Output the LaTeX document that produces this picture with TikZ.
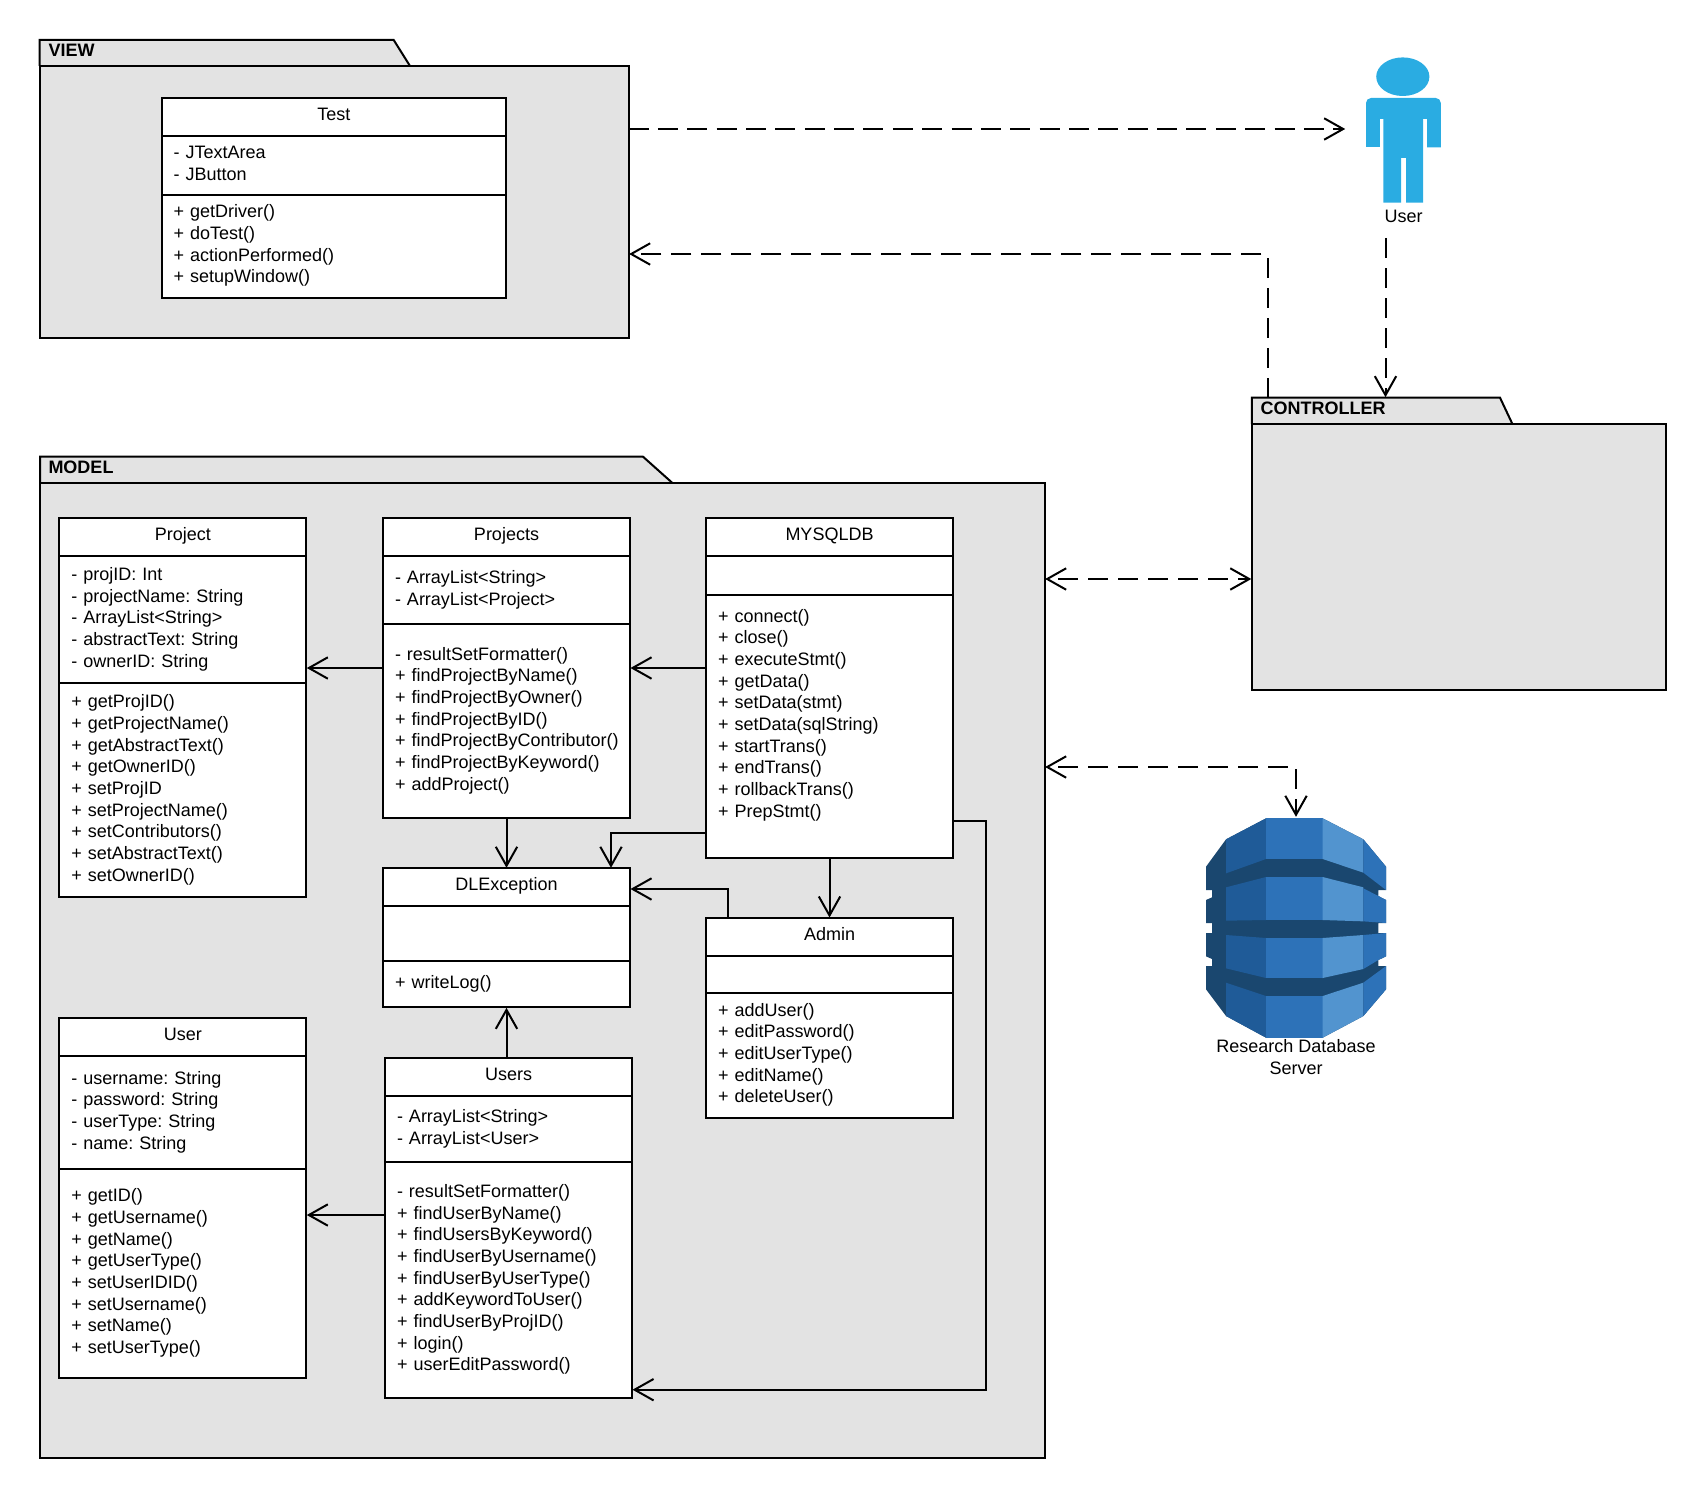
\documentclass[tikz,border=0pt]{standalone}
\usepackage{fontspec}
\setmainfont{Liberation Sans}
\usetikzlibrary{arrows.meta}
\definecolor{pkggray}{HTML}{E3E3E3}
\definecolor{actorblue}{HTML}{2AACE2}
\definecolor{dbdark}{HTML}{1A476F}
\definecolor{dbleft}{HTML}{1F5B98}
\definecolor{dbmid}{HTML}{2D72B8}
\definecolor{dblight}{HTML}{5294CF}
\frenchspacing
\begin{document}
\begin{tikzpicture}
[x=0.5pt, y=-0.5pt, line width=1pt, font=\fontsize{9}{10.83}\selectfont,
openbarb/.tip={Straight Barb[length=9.5pt, width=10.7pt]},
pkgbody/.style={rectangle, draw, fill=pkggray, inner sep=0pt, outer sep=0pt, anchor=north west},
pkgtab/.style={draw, fill=pkggray},
pkgname/.style={anchor=west, inner sep=0pt, font=\fontsize{9}{10.83}\selectfont\bfseries},
classname/.style={rectangle, draw, fill=white, inner sep=0pt, outer sep=0pt, anchor=north west, minimum width=123.5pt, minimum height=18.85pt, text height=6.5pt, text depth=2.8pt, align=center},
classcell/.style={rectangle, draw, fill=white, inner ysep=0pt, inner xsep=6pt, outer sep=0pt, anchor=north west, text width=111.5pt, align=left, execute at begin node={\rule{0pt}{7.55pt}}, execute at end node={\rule[-3.28pt]{0pt}{3.28pt}}},
assoc/.style={-{openbarb}, shorten >=0.25pt},
dep/.style={-{openbarb}, shorten >=0.25pt, dash pattern=on 10pt off 5pt},
actor/.style={fill=actorblue}
]

\useasboundingbox (0,0) rectangle (1706,1498);

% packages
\draw[pkgtab] (39.7,66) -- (39.7,40) -- (393.7,40) -- (410,66);
\node[pkgbody, minimum width=294.45pt, minimum height=136pt] (viewbody) at (39.7,66) {};
\node[pkgname] (viewname) at (47.5,50.5) {VIEW};

\draw[pkgtab] (40,482.6) -- (40,456.7) -- (643,456.7) -- (672,482.6);
\node[pkgbody, minimum width=502.3pt, minimum height=487.7pt] (modelbody) at (40,482.6) {};
\node[pkgname] (modelname) at (47.5,467.3) {MODEL};

\draw[pkgtab] (1251.8,424) -- (1251.8,397.7) -- (1500,397.7) -- (1512.4,424);
\node[pkgbody, minimum width=207.1pt, minimum height=133pt] (ctrlbody) at (1251.8,424) {};
\node[pkgname] (ctrlname) at (1259.5,408.5) {CONTROLLER};

% classes
\node[classname, minimum width=172.2pt] (testname) at (161.6,98) {Test};
\node[classcell, text width=160.2pt, minimum height=29.35pt] (testattr) at (161.6,136) {- JTextArea\\- JButton};
\node[classcell, text width=160.2pt, minimum height=51.5pt] (testops) at (161.6,194.7) {+ getDriver()\\+ doTest()\\+ actionPerformed()\\+ setupWindow()};

\node[classname] (projectname) at (59.3,518.3) {Project};
\node[classcell, minimum height=63.5pt] (projectattr) at (59.3,556) {- projID: Int\\- projectName: String\\- ArrayList<String>\\- abstractText: String\\- ownerID: String};
\node[classcell, minimum height=107.15pt] (projectops) at (59.3,683) {+ getProjID()\\+ getProjectName()\\+ getAbstractText()\\+ getOwnerID()\\+ setProjID\\+ setProjectName()\\+ setContributors()\\+ setAbstractText()\\+ setOwnerID()};

\node[classname] (projectsname) at (383,518.3) {Projects};
\node[classcell, minimum height=34pt] (projectsattr) at (383,556) {- ArrayList<String>\\- ArrayList<Project>};
\node[classcell, minimum height=96.85pt] (projectsops) at (383,624) {- resultSetFormatter()\\+ findProjectByName()\\+ findProjectByOwner()\\+ findProjectByID()\\\mbox{+ findProjectByContributor()}\\+ findProjectByKeyword()\\+ addProject()};

\node[classname] (mysqlname) at (706,518.3) {MYSQLDB};
\node[classcell, minimum height=19.5pt] (mysqlattr) at (706,556) {};
\node[classcell, minimum height=131.35pt] (mysqlops) at (706,595) {+ connect()\\+ close()\\+ executeStmt()\\+ getData()\\+ setData(stmt)\\+ setData(sqlString)\\+ startTrans()\\+ endTrans()\\+ rollbackTrans()\\+ PrepStmt()\\~};

\node[classname] (dlname) at (383,868.3) {DLException};
\node[classcell, minimum height=27.5pt] (dlattr) at (383,906) {};
\node[classcell, minimum height=23.15pt] (dlops) at (383,961) {+ writeLog()};

\node[classname] (adminname) at (706,918) {Admin};
\node[classcell, minimum height=18.5pt] (adminattr) at (706,955.7) {};
\node[classcell, minimum height=62.5pt] (adminops) at (706,992.7) {+ addUser()\\+ editPassword()\\+ editUserType()\\+ editName()\\+ deleteUser()};

\node[classname] (username) at (59.3,1018.3) {User};
\node[classcell, minimum height=56.5pt] (userattr) at (59.3,1056) {- username: String\\- password: String\\- userType: String\\- name: String};
\node[classcell, minimum height=104.35pt] (userops) at (59.3,1169) {+ getID()\\+ getUsername()\\+ getName()\\+ getUserType()\\+ setUserIDID()\\+ setUsername()\\+ setName()\\+ setUserType()};

\node[classname] (usersname) at (385,1058.3) {Users};
\node[classcell, minimum height=33pt] (usersattr) at (385,1096) {- ArrayList<String>\\- ArrayList<User>};
\node[classcell, minimum height=117.85pt] (usersops) at (385,1162) {- resultSetFormatter()\\+ findUserByName()\\+ findUsersByKeyword()\\+ findUserByUsername()\\+ findUserByUserType()\\+ addKeywordToUser()\\+ findUserByProjID()\\+ login()\\+ userEditPassword()};

% user figure
\fill[actor] (1402.8,76.7) ellipse [x radius=26.6, y radius=19.3];
\fill[actor] (1366,147) [rounded corners=2.5pt] -- (1366,98) -- (1440.8,98) [sharp corners] -- (1440.8,147.5) -- (1427,147.5) -- (1427,119) -- (1423,119) -- (1423,202.7) -- (1406,202.7) -- (1406,158) -- (1401,158) -- (1401,202.7) -- (1383.3,202.7) -- (1383.3,119) -- (1379.8,119) -- (1379.8,147) -- cycle;
\node[inner sep=0pt] (userlabel) at (1403.5,216) {User};

% database
\node[rectangle, inner sep=0pt, minimum width=90pt, minimum height=109.7pt] (dbserver) at (1296,928) {};
\begin{scope}[shift={(1150,760)}, x=0.16667pt, y=-0.16667pt]
\fill[dbdark] (348,175) -- (518,175) -- (640,238) -- (708,320) -- (708,390) -- (685,390) -- (685,408) -- (708,420) -- (708,489) -- (685,489) -- (685,519) -- (708,519) -- (708,589) -- (685,600) -- (685,618) -- (708,618) -- (708,688) -- (640,768) -- (518,833) -- (348,833) -- (228,768) -- (168,688) -- (168,618) -- (186,618) -- (186,597) -- (168,589) -- (168,519) -- (186,519) -- (186,489) -- (168,489) -- (168,420) -- (186,412) -- (186,390) -- (168,390) -- (168,320) -- (228,238) -- cycle;
\fill[dbleft] (228,238) -- (348,175) -- (348,297) -- (228,340) -- cycle;
\fill[dbleft] (228,382) -- (348,351) -- (348,480) -- (228,482) -- cycle;
\fill[dbleft] (228,525) -- (348,534) -- (348,654) -- (228,625) -- cycle;
\fill[dbleft] (228,668) -- (348,708) -- (348,833) -- (228,768) -- cycle;
\fill[dbmid] (348,175) -- (518,175) -- (518,297) -- (348,297) -- cycle;
\fill[dbmid] (348,351) -- (518,351) -- (518,480) -- (348,480) -- cycle;
\fill[dbmid] (348,534) -- (518,534) -- (518,654) -- (348,654) -- cycle;
\fill[dbmid] (348,708) -- (518,708) -- (518,833) -- (348,833) -- cycle;
\fill[dblight] (518,175) -- (640,238) -- (640,338) -- (518,297) -- cycle;
\fill[dblight] (518,351) -- (640,382) -- (640,484) -- (518,480) -- cycle;
\fill[dblight] (518,534) -- (640,525) -- (640,627) -- (518,654) -- cycle;
\fill[dblight] (518,708) -- (640,668) -- (640,768) -- (518,833) -- cycle;
\fill[dbmid] (640,238) -- (708,320) -- (708,390) -- (640,338) -- cycle;
\fill[dbmid] (640,385) -- (685,408) -- (708,420) -- (708,489) -- (640,484) -- cycle;
\fill[dbmid] (640,525) -- (708,519) -- (708,589) -- (685,600) -- (640,627) -- cycle;
\fill[dbmid] (640,668) -- (708,618) -- (708,688) -- (640,768) -- cycle;
\end{scope}
\node[inner sep=0pt, align=center] (dblabel) at (1296,1057) {Research Database\\Server};

% connectors
\coordinate (usertarget) at (1345.7,129);
\coordinate (usersource) at (1385.5,238);
\coordinate (ctrlpoint) at (1385.5,397.7);
\coordinate (ctrlleft) at (1267.7,397.7);
\coordinate (lnkview) at (1267.7,254);
\coordinate (lnkctrl) at (0,579);
\coordinate (lnkdb) at (1296,767);
\coordinate (lnkprojects) at (0,668);
\coordinate (lnkusers) at (0,1215);
\coordinate (lnkmysqldl) at (611,832.7);
\coordinate (lnkadmindl) at (728.3,889);
\coordinate (lnkmysqlusersa) at (986,821);
\coordinate (lnkmysqlusersb) at (986,1389.7);

\draw[dep, dash pattern=on 10pt off 4.68pt] (viewbody.east |- usertarget) -- (usertarget);
\draw[dep] (ctrlleft) -- (lnkview) -- (viewbody.east |- lnkview);
\draw[dep] (usersource) -- (ctrlpoint);
\draw[dep, {openbarb}-{openbarb}, shorten <=0.25pt, dash phase=10pt] (modelbody.east |- lnkctrl) -- (ctrlbody.west |- lnkctrl);
\draw[dep, {openbarb}-{openbarb}, shorten <=0.25pt, dash phase=10pt] (modelbody.east |- lnkdb) -- (lnkdb) -- (lnkdb |- dbserver.north);

\draw[assoc] (projectsops.west |- lnkprojects) -- (projectattr.east |- lnkprojects);
\draw[assoc] (mysqlops.west |- lnkprojects) -- (projectsops.east |- lnkprojects);
\draw[assoc] (projectsops.south) -- (dlname.north);
\draw[assoc] (mysqlops.west |- lnkmysqldl) -- (lnkmysqldl) -- (lnkmysqldl |- dlname.north);
\draw[assoc] (lnkadmindl |- adminname.north) -- (lnkadmindl) -- (dlname.east |- lnkadmindl);
\draw[assoc] (mysqlops.south) -- (adminname.north);
\draw[assoc] (mysqlops.east |- lnkmysqlusersa) -- (lnkmysqlusersa) -- (lnkmysqlusersb) -- (usersops.east |- lnkmysqlusersb);
\draw[assoc] (dlops.south |- usersname.north) -- (dlops.south);
\draw[assoc] (usersops.west |- lnkusers) -- (userops.east |- lnkusers);
\end{tikzpicture}
\end{document}
